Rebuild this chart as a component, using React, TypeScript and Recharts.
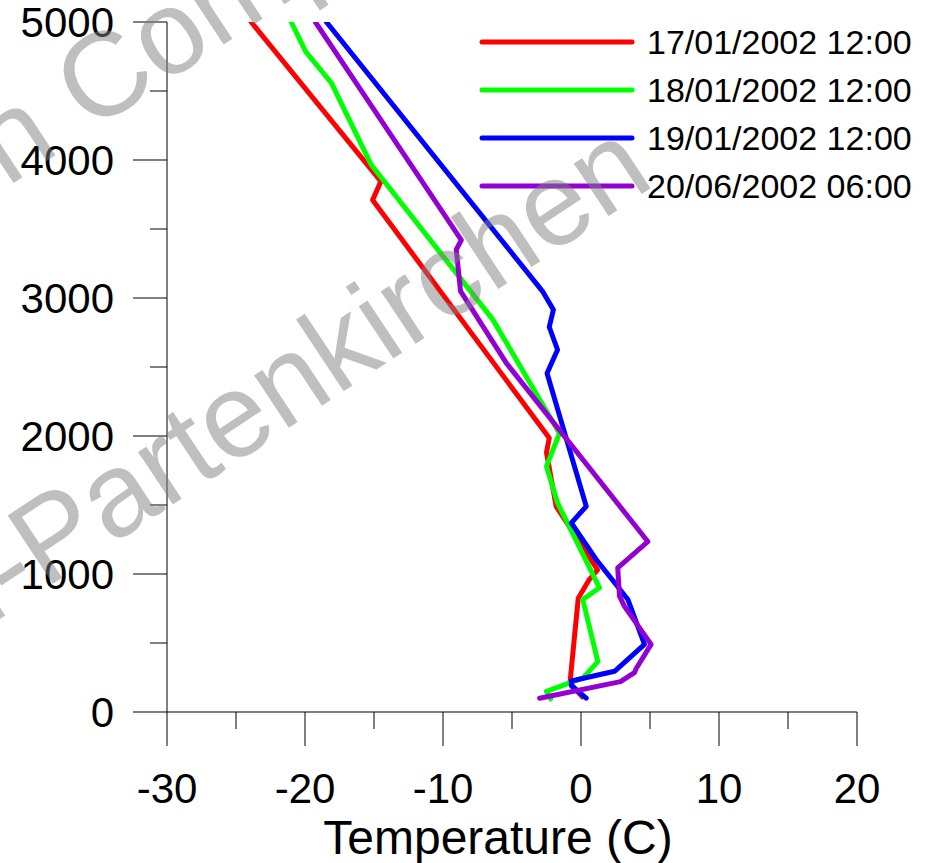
import React from 'react';
import { LineChart, Line, XAxis, YAxis, Legend } from 'recharts';

const FONT = '"Liberation Sans", Arial, Helvetica, sans-serif';

const seriesNames = ['17/01/2002 12:00', '18/01/2002 12:00', '19/01/2002 12:00', '20/06/2002 06:00'];
const seriesColors = ['#ff0000', '#00ff00', '#0000ff', '#9400d3'];

const temp17 = [-23.9, -14.5, -15.1, -2.3, -2.5, -1.8, 1.2, 0.6, -0.2, -0.8, 0.1];
const height17 = [5000, 3845, 3710, 1985, 1880, 1490, 1030, 960, 825, 210, 110];

const temp18 = [-21.0, -19.95, -18.1, -15.2, -6.4, -1.56, -2.5, -1.7, 1.34, 0.13, 1.22, 0.13, -2.5, -2.2];
const height18 = [5000, 4785, 4560, 3965, 2845, 2020, 1780, 1515, 900, 815, 365, 245, 150, 95];

const temp19 = [-18.45, -2.8, -2.0, -2.3, -1.7, -2.46, 0.38, -0.7, 1.1, 3.4, 4.6, 2.43, -0.7, -0.7, 0.38];
const height19 = [5000, 3050, 2915, 2790, 2625, 2455, 1490, 1370, 1105, 815, 490, 295, 225, 190, 100];

const temp20 = [-19.25, -8.67, -9.04, -8.73, -5.42, 4.84, 2.66, 2.79, 3.15, 5.08, 4.0, 3.87, 2.86, -3.0];
const height20 = [5000, 3420, 3350, 3050, 2530, 1235, 1045, 840, 765, 490, 315, 285, 220, 100];

const xTicks = [-30, -25, -20, -15, -10, -5, 0, 5, 10, 15, 20];
const xMajorTicks = [-30, -20, -10, 0, 10, 20];
const yTicks = [0, 500, 1000, 1500, 2000, 2500, 3000, 3500, 4000, 4500, 5000];
const yMajorTicks = [0, 1000, 2000, 3000, 4000, 5000];

const xTitle = 'Temperature (C)';
const watermarkLine1a = 'Station';
const watermarkLine1b = 'Computer';
const watermarkLine2 = 'Garmisch-Partenkirchen';

const build = (t: number[], h: number[]) => t.map((v, i) => ({ t: v, h: h[i] }));
const seriesData = [
  build(temp17, height17),
  build(temp18, height18),
  build(temp19, height19),
  build(temp20, height20),
];

const XTick = (props: any) => {
  const { x, y, payload } = props;
  const major = xMajorTicks.includes(payload.value);
  return (
    <g>
      <line x1={x} y1={y} x2={x} y2={y + (major ? 34 : 17)} stroke="#000" strokeWidth={1} />
      {major && (
        <text x={x} y={y + 91} textAnchor="middle" fontSize={42} fontFamily={FONT} fill="#000">
          {payload.value}
        </text>
      )}
    </g>
  );
};

const YTick = (props: any) => {
  const { x, y, payload } = props;
  const major = yMajorTicks.includes(payload.value);
  return (
    <g>
      <line x1={x - (major ? 34 : 17)} y1={y} x2={x} y2={y} stroke="#000" strokeWidth={1} />
      {major && (
        <text x={x - 53} y={y + 15} textAnchor="end" fontSize={42} fontFamily={FONT} fill="#000">
          {payload.value}
        </text>
      )}
    </g>
  );
};

const renderLegend = () => (
  <svg width={456} height={200} style={{ display: 'block' }}>
    {seriesNames.map((name, i) => {
      const cy = 22 + i * 48;
      return (
        <g key={name}>
          <line x1={12} y1={cy} x2={162} y2={cy} stroke={seriesColors[i]} strokeWidth={5} strokeLinecap="round" />
          <text x={177} y={cy + 12} fontSize={34} fontFamily={FONT} fill="#000">
            {name}
          </text>
        </g>
      );
    })}
  </svg>
);

export default function App() {
  const ang = -33.5;
  const wmSize = 119;
  return (
    <div style={{ position: 'absolute', left: 0, top: 0, width: 926, height: 863, background: '#fff' }}>
      <LineChart width={926} height={863} margin={{ top: 22, right: 69, left: 0, bottom: 0 }}>
        <XAxis
          type="number"
          dataKey="t"
          domain={[-30, 20]}
          ticks={xTicks}
          interval={0}
          tickSize={0}
          tickMargin={0}
          tickLine={false}
          axisLine={{ stroke: '#000', strokeWidth: 1 }}
          tick={<XTick />}
          height={151}
          allowDataOverflow
        />
        <YAxis
          type="number"
          domain={[0, 5000]}
          ticks={yTicks}
          interval={0}
          tickSize={0}
          tickMargin={0}
          tickLine={false}
          axisLine={{ stroke: '#000', strokeWidth: 1 }}
          tick={<YTick />}
          width={167}
          allowDataOverflow
        />
        <Legend
          layout="horizontal"
          verticalAlign="middle"
          align="center"
          content={renderLegend}
          wrapperStyle={{ position: 'absolute', left: 470, top: 20, width: 456, height: 200 }}
        />
        {seriesData.map((d, i) => (
          <Line
            key={seriesNames[i]}
            name={seriesNames[i]}
            data={d}
            dataKey="h"
            type="linear"
            stroke={seriesColors[i]}
            strokeWidth={5}
            strokeLinejoin="round"
            strokeLinecap="round"
            dot={false}
            activeDot={false}
            isAnimationActive={false}
          />
        ))}
      </LineChart>
      <svg
        width={926}
        height={863}
        style={{ position: 'absolute', left: 0, top: 0, pointerEvents: 'none' }}
      >
        <text
          transform={`translate(657,184) rotate(${ang})`}
          textAnchor="end"
          fontSize={wmSize}
          fontFamily={FONT}
          fill="#808080"
          fillOpacity={0.5}
        >
          {watermarkLine2}
        </text>
        <text
          transform={`translate(62,151) rotate(${ang})`}
          textAnchor="end"
          fontSize={wmSize}
          fontFamily={FONT}
          fill="#808080"
          fillOpacity={0.5}
        >
          {watermarkLine1a}
        </text>
        <text
          transform={`translate(90,133) rotate(${ang})`}
          textAnchor="start"
          fontSize={wmSize}
          fontFamily={FONT}
          fill="#808080"
          fillOpacity={0.5}
        >
          {watermarkLine1b}
        </text>
      </svg>
      <svg width={926} height={863} style={{ position: 'absolute', left: 0, top: 0, pointerEvents: 'none' }}>
        <text x={498} y={854} textAnchor="middle" fontSize={48} fontFamily={FONT} fill="#000">
          {xTitle}
        </text>
      </svg>
    </div>
  );
}
